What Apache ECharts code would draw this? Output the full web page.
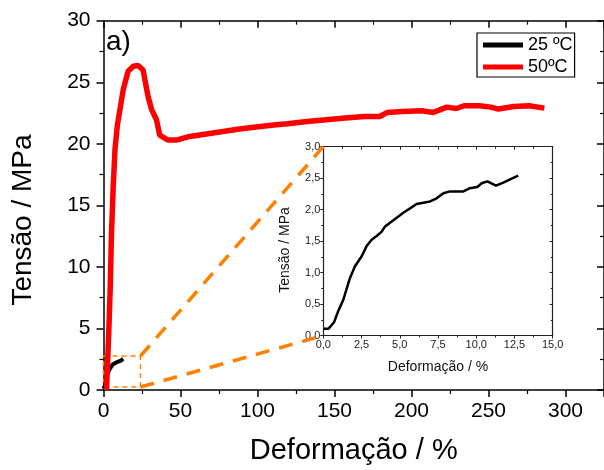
<!DOCTYPE html>
<html><head><meta charset="utf-8">
<script src="https://cdn.jsdelivr.net/npm/echarts@6/dist/echarts.min.js"></script>
<style>html,body{margin:0;padding:0;background:#fff}#c{width:604px;height:470px}</style>
</head><body><div id="c"></div>
<script>
// 50 ºC curve (main plot)
const strain50 = [1.9, 2.6, 3.4, 4.3, 5.2, 6.3, 7.5, 9.0, 10.7, 12.8, 16.0, 19.3, 22.5, 25.7, 29.0, 31.2, 34.4, 36.5, 41.9, 47.3, 56.0, 66.8, 77.5, 88.3, 99.1, 112.0, 119.5, 132.1, 144.5, 157.0, 169.4, 179.4, 184.3, 194.2, 206.7, 214.2, 222.9, 229.1, 234.1, 244.0, 251.5, 256.5, 266.4, 276.4, 286.3];
const stress50 = [0.0, 2.0, 4.65, 8.0, 12.8, 16.5, 19.6, 21.5, 22.8, 24.4, 25.9, 26.3, 26.36, 26.0, 23.8, 22.8, 21.95, 20.7, 20.3, 20.3, 20.6, 20.8, 21.0, 21.2, 21.36, 21.55, 21.63, 21.82, 21.95, 22.09, 22.22, 22.22, 22.55, 22.63, 22.68, 22.55, 22.98, 22.87, 23.09, 23.09, 22.98, 22.82, 23.03, 23.09, 22.9];
// 25 ºC curve (main plot and inset)
const strain25 = [0.04, 0.33, 0.70, 0.98, 1.31, 1.74, 2.07, 2.51, 2.83, 3.16, 3.49, 3.82, 4.03, 4.47, 4.91, 5.23, 5.67, 6.10, 6.54, 6.98, 7.41, 7.85, 8.28, 8.72, 9.16, 9.59, 10.07, 10.36, 10.73, 11.29, 11.77, 12.21, 12.75];
const stress25 = [0.106, 0.106, 0.21, 0.39, 0.57, 0.91, 1.10, 1.26, 1.42, 1.52, 1.58, 1.65, 1.73, 1.81, 1.89, 1.95, 2.02, 2.09, 2.11, 2.13, 2.18, 2.26, 2.29, 2.29, 2.29, 2.34, 2.36, 2.42, 2.45, 2.38, 2.43, 2.48, 2.54];
// zoom box in main-plot data units
const zoomBoxX = [0, 24];
const zoomBoxY = [0.24, 2.76];
const seriesNames = ['25 ºC', '50ºC'];

const FONT = 'Liberation Sans, Arial, sans-serif';
const NARROW = 'Liberation Sans Narrow, Liberation Sans, Arial, sans-serif';
const zip = (a, b) => a.map((v, i) => [v, b[i]]);
const comma = v => v.toFixed(1).replace('.', ',');

const chart = echarts.init(document.getElementById('c'), null, {renderer: 'canvas'});

const axLine = {show: true, onZero: false, lineStyle: {color: '#000', width: 1.5}};
function mainAxis(type, pos, labels, extra) {
  return Object.assign({
    type: 'value', position: pos, gridIndex: 0,
    axisLine: axLine, splitLine: {show: false},
    axisTick: {show: true, inside: !labels, length: 7, lineStyle: {color: '#000', width: 1.5}},
    minorTick: {show: true, splitNumber: 2, length: 4, lineStyle: {color: '#000', width: 1.2}},
    axisLabel: labels ? {show: true, fontSize: 21, fontFamily: FONT, color: '#000'} : {show: false}
  }, extra);
}
const inAxLine = {show: true, onZero: false, lineStyle: {color: '#222', width: 1.2}};
function insetAxis(pos, labels, extra) {
  return Object.assign({
    type: 'value', position: pos, gridIndex: 1,
    axisLine: inAxLine, splitLine: {show: false},
    axisTick: {show: true, inside: !labels, length: 3, lineStyle: {color: '#222', width: 1}},
    minorTick: {show: true, splitNumber: 2, length: 2, lineStyle: {color: '#222', width: 1}},
    axisLabel: labels ? {show: true, fontSize: 11, fontFamily: NARROW, color: '#222', formatter: comma} : {show: false}
  }, extra);
}

const option = {
  animation: false,
  backgroundColor: '#fff',
  grid: [
    {left: 103.5, top: 20.7, width: 502.5, height: 370},
    {left: 323.3, top: 146.7, width: 229.4, height: 188.8}
  ],
  xAxis: [
    mainAxis('x', 'bottom', true, {min: 0, max: 325, interval: 50,
      axisLabel: {show: true, fontSize: 21, fontFamily: FONT, color: '#000', margin: 11, showMaxLabel: false},
      name: 'Deformação / %', nameLocation: 'middle', nameGap: 46,
      nameTextStyle: {fontSize: 29, fontFamily: FONT, color: '#000'}}),
    mainAxis('x', 'top', false, {min: 0, max: 325, interval: 50}),
    insetAxis('bottom', true, {min: 0, max: 15, interval: 2.5,
      axisLabel: {show: true, fontSize: 11, fontFamily: NARROW, color: '#222', formatter: comma, margin: 4},
      name: 'Deformação / %', nameLocation: 'middle', nameGap: 25,
      nameTextStyle: {fontSize: 14, fontFamily: FONT, color: '#111'}}),
    insetAxis('top', false, {min: 0, max: 15, interval: 2.5})
  ],
  yAxis: [
    mainAxis('y', 'left', true, {min: 0, max: 30, interval: 5,
      axisLabel: {show: true, fontSize: 21, fontFamily: FONT, color: '#000', margin: 13}}),
    mainAxis('y', 'right', false, {min: 0, max: 30, interval: 5}),
    insetAxis('left', true, {min: 0, max: 3, interval: 0.5,
      axisLabel: {show: true, fontSize: 11, fontFamily: NARROW, color: '#222', formatter: comma, margin: 3}}),
    insetAxis('right', false, {min: 0, max: 3, interval: 0.5})
  ],
  legend: {
    data: seriesNames, orient: 'vertical', left: 477, top: 33,
    padding: [3, 2, 1, 6], itemWidth: 40, itemHeight: 5, itemGap: 4, icon: 'rect',
    borderColor: '#000', borderWidth: 1.2, backgroundColor: '#fff',
    textStyle: {fontSize: 18, fontFamily: FONT, color: '#000'}
  },
  series: [
    {name: seriesNames[0], type: 'line', xAxisIndex: 0, yAxisIndex: 0, data: zip(strain25, stress25),
      showSymbol: false, symbol: 'none', color: '#000', lineStyle: {color: '#000', width: 4}, z: 4},
    {name: seriesNames[1], type: 'line', xAxisIndex: 0, yAxisIndex: 0, data: zip(strain50, stress50),
      showSymbol: false, symbol: 'none', color: '#ff0000', lineStyle: {color: '#ff0000', width: 5.5}, z: 5},
    {name: 'inset', type: 'line', xAxisIndex: 2, yAxisIndex: 2, data: zip(strain25, stress25),
      showSymbol: false, symbol: 'none', color: '#000', lineStyle: {color: '#000', width: 2.5}, z: 4}
  ]
};
chart.setOption(option);

// annotations derived from the axes' own scales
const p = (g, v) => chart.convertToPixel({gridIndex: g}, v);
const bl = p(0, [zoomBoxX[0], zoomBoxY[0]]);
const tr = p(0, [zoomBoxX[1], zoomBoxY[1]]);
const br = p(0, [zoomBoxX[1], zoomBoxY[0]]);
const insTL = p(1, [0, 3]);
const insBL = p(1, [0, 0]);
const orange = '#ff8000';
chart.setOption({
  graphic: [
    {type: 'rect', z: 3, shape: {x: bl[0], y: tr[1], width: tr[0] - bl[0], height: bl[1] - tr[1]},
      style: {fill: 'none', stroke: orange, lineWidth: 1.5, lineDash: [5, 4]}},
    {type: 'line', z: 3, shape: {x1: tr[0], y1: tr[1], x2: insTL[0], y2: insTL[1]},
      style: {stroke: orange, lineWidth: 3.5, lineDash: [14, 10]}},
    {type: 'line', z: 3, shape: {x1: br[0], y1: br[1], x2: insBL[0], y2: insBL[1]},
      style: {stroke: orange, lineWidth: 3.5, lineDash: [14, 10]}},
    {type: 'text', z: 10, x: 23, y: 220, rotation: Math.PI / 2,
      style: {text: 'Tensão / MPa', font: '28px ' + FONT, fill: '#000', align: 'center', verticalAlign: 'middle'}},
    {type: 'text', z: 10, x: 285, y: 250, rotation: Math.PI / 2,
      style: {text: 'Tensão / MPa', font: '14px ' + FONT, fill: '#111', align: 'center', verticalAlign: 'middle'}},
    {type: 'text', z: 10, x: 106, y: 42,
      style: {text: 'a)', font: '28px ' + FONT, fill: '#000', align: 'left', verticalAlign: 'middle'}}
  ]
});
</script></body></html>
